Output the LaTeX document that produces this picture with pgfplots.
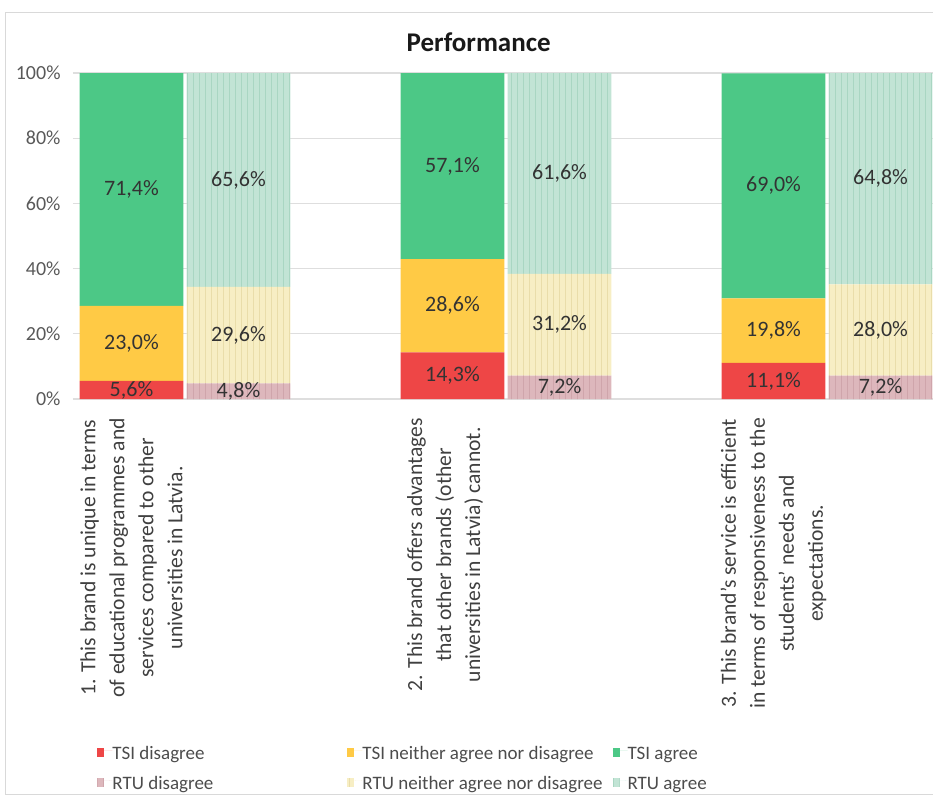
\documentclass[border=0pt]{standalone}
\usepackage{pgfplots}
\pgfplotsset{compat=1.18}
\usepackage{pgfplotstable}
\usetikzlibrary{patterns}
\usepackage{fontspec}
\setmainfont{Carlito}
\definecolor{tsid}{HTML}{EE4646}
\definecolor{tsin}{HTML}{FFCA45}
\definecolor{tsia}{HTML}{4CC886}
\definecolor{rtud}{HTML}{DDB7BC}
\definecolor{rtun}{HTML}{F7EEC4}
\definecolor{rtua}{HTML}{C2E4D5}
\definecolor{rtudS}{HTML}{CFA5AB}
\definecolor{rtunS}{HTML}{E9DDAA}
\definecolor{rtuaS}{HTML}{A9D6C2}
\newcommand{\legtxt}[2]{\makebox[#1][l]{\rule[-4.5pt]{0pt}{15pt}#2}}
\pgfplotstableread{
x tsid tsin tsia rtud rtun rtua
0 5.6 23.0 71.4 0 0 0
1 0 0 0 4.8 29.6 65.6
3 14.3 28.6 57.1 0 0 0
4 0 0 0 7.2 31.2 61.6
6 11.1 19.8 69.0 0 0 0
7 0 0 0 7.2 28.0 64.8
}\datatable
\begin{document}
\begin{tikzpicture}
\begin{axis}[
  at={(0,0)}, anchor=south west,
  scale only axis, width=430.14pt, height=163pt,
  ybar stacked, bar width=0.97,
  xmin=-0.55, xmax=7.49, ymin=0, ymax=100,
  /pgf/number format/assume math mode=true,
  ytick={0,20,...,100},
  yticklabel={\pgfmathprintnumber{\tick}\%},
  yticklabel style={font=\fontsize{10}{12}\selectfont, text=black!65, xshift=-2.5pt},
  xtick={0,2.93,6},
  xticklabels={{1. This brand is unique in terms\\of educational programmes and\\services compared to other\\universities in Latvia.},
               {2. This brand offers advantages\\that other brands (other\\universities in Latvia) cannot.},
               {3. This brand’s service is efficient\\in terms of responsiveness to the\\students’ needs and\\expectations.}},
  xticklabel style={yshift=-6pt, rotate=90, anchor=east, align=center,
     font=\fontsize{10.8}{14.5}\selectfont, text=black!75},
  axis line style={draw=none},
  major tick length=0pt,
  ymajorgrids, grid style={draw=black!13, line width=0.6pt},
  title={Performance},
  title style={at={(axis description cs:0.472,1)}, anchor=base, yshift=5pt,
     font=\bfseries\fontsize{13.5}{16}\selectfont, text=black!90},
  nodes near coords={\pgfmathtruncatemacro{\lblshow}{\segh>0.01 ? 1 : 0}\ifnum\lblshow=1 \pgfmathprintnumber[fixed,fixed zerofill,precision=1,use comma]{\segh}\%\fi},
  every node near coord/.append style={anchor=center,
     font=\fontsize{11}{13}\selectfont, text=black!80},
  legend columns=3,
  legend style={at={(axis description cs:0.0284,-1.0414)}, anchor=north west,
     draw=none, fill=none, inner sep=0pt, row sep=3pt, column sep=0pt,
     font=\fontsize{9.5}{12}\selectfont, text=black!70,
     nodes={inner sep=0pt}},
  legend image code/.code={\fill[#1] (0pt,-2.8pt) rectangle (3.5pt,1.4pt); \path (0pt,0pt) -- (7.5pt,0pt);},
]
\addplot[fill=tsid, draw=none, visualization depends on={\thisrow{tsid}\as\segh}] table[x=x,y=tsid]{\datatable};
\addlegendentry{\legtxt{117.5pt}{TSI disagree}}
\addplot[fill=tsin, draw=none, visualization depends on={\thisrow{tsin}\as\segh}] table[x=x,y=tsin]{\datatable};
\addlegendentry{\legtxt{125pt}{TSI neither agree nor disagree}}
\addplot[fill=tsia, draw=none, visualization depends on={\thisrow{tsia}\as\segh}] table[x=x,y=tsia]{\datatable};
\addlegendentry{\legtxt{50pt}{TSI agree}}
\addplot[fill=rtud, draw=none, postaction={pattern=vertical lines, pattern color=rtudS}, visualization depends on={\thisrow{rtud}\as\segh}] table[x=x,y=rtud]{\datatable};
\addlegendentry{\legtxt{117.5pt}{RTU disagree}}
\addplot[fill=rtun, draw=none, postaction={pattern=vertical lines, pattern color=rtunS}, visualization depends on={\thisrow{rtun}\as\segh}] table[x=x,y=rtun]{\datatable};
\addlegendentry{\legtxt{125pt}{RTU neither agree nor disagree}}
\addplot[fill=rtua, draw=none, postaction={pattern=vertical lines, pattern color=rtuaS}, visualization depends on={\thisrow{rtua}\as\segh}] table[x=x,y=rtua]{\datatable};
\addlegendentry{\legtxt{50pt}{RTU agree}}
\end{axis}
\draw[black!15] (-33.8pt,-197.5pt) rectangle (440pt,193.5pt);
\pgfresetboundingbox
\useasboundingbox (-36.3pt,-198.5pt) rectangle (430.14pt,199.5pt);
\end{tikzpicture}
\end{document}
